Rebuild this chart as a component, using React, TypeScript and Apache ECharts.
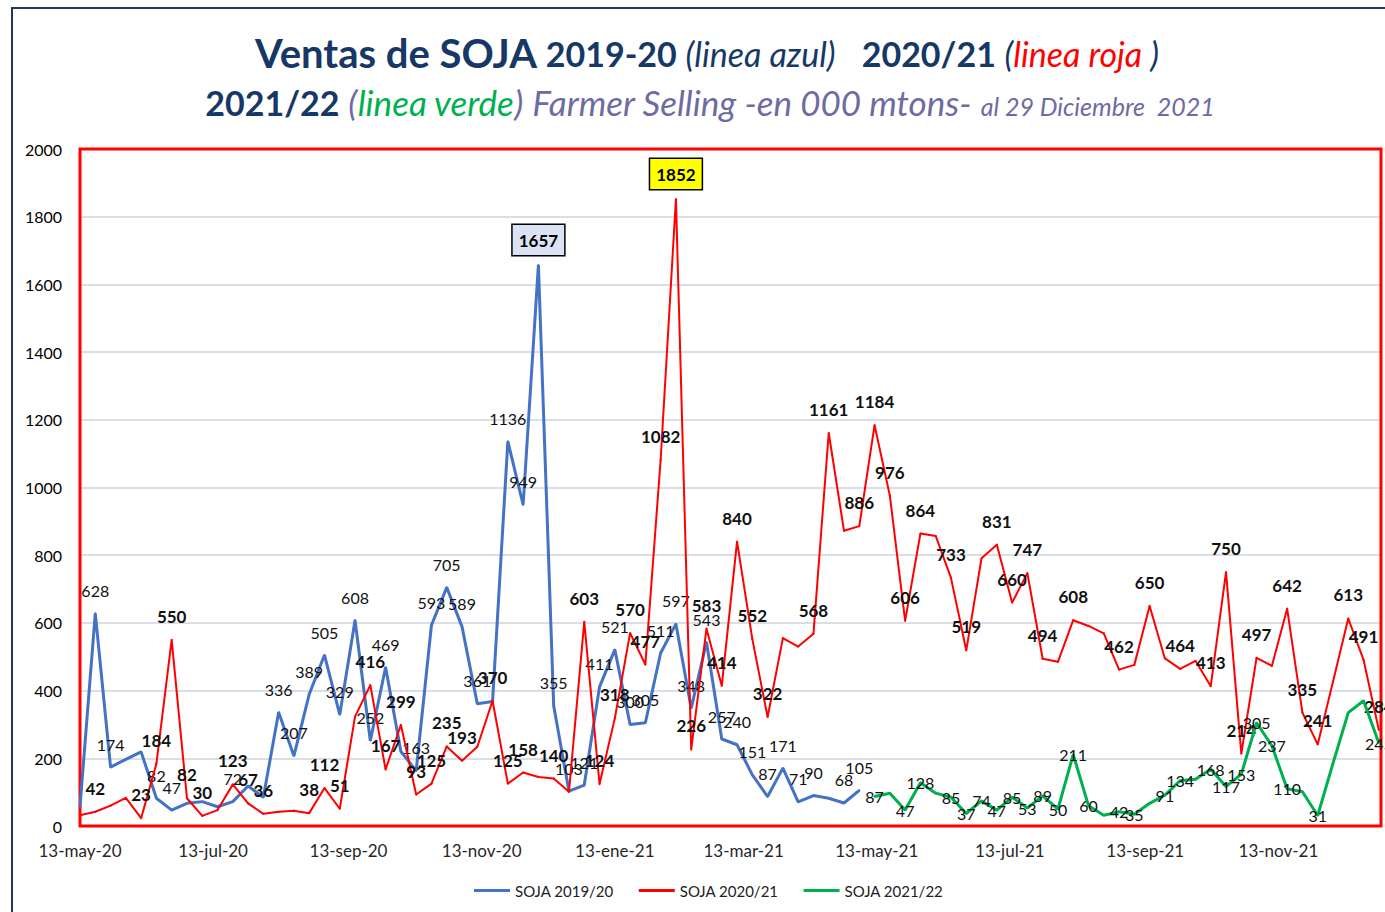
import React, { useEffect, useRef } from "react";
import * as echarts from "echarts";

// ---------- axis data ----------
const startDate = "2020-05-13";
const dayCount = 597; // daily categories, plot spans day 0 .. 596
const monthNames = ["ene", "feb", "mar", "abr", "may", "jun", "jul", "ago", "sep", "oct", "nov", "dic"];
const labelMonths = [0, 2, 4, 6, 8, 10];
const labelDay = 13;
const yMin = 0;
const yMax = 2000;
const yInterval = 200;

// ---------- series (weekly values) ----------
const seriesNames = ["SOJA 2019/20", "SOJA 2020/21", "SOJA 2021/22"];

const blueStartWeek = 0;
const blueValues = [
  57, 628, 174, 197, 219, 82, 47, 67, 72, 57,
  72, 118, 85, 336, 207, 389, 505, 329, 608, 252,
  469, 220, 163, 593, 705, 589, 361, 368, 1136, 949,
  1657, 355, 103, 121, 411, 521, 300, 305, 511, 597,
  348, 543, 257, 240, 151, 87, 171, 71, 90, 82,
  68, 105,
];
const blueNoLabel = [0, 3, 4, 7, 8, 9, 11, 12, 21, 27, 49];
const blueBoxWeek = 30;

const redStartWeek = 0;
const redValues = [
  32, 42, 60, 83, 23, 184, 550, 82, 30, 47,
  123, 67, 36, 42, 45, 38, 112, 51, 323, 416,
  167, 299, 93, 125, 235, 193, 234, 370, 125, 158,
  145, 140, 101, 603, 124, 318, 570, 477, 1082, 1852,
  226, 583, 414, 840, 552, 322, 555, 530, 568, 1161,
  872, 886, 1184, 976, 606, 864, 857, 733, 519, 791,
  831, 660, 747, 494, 485, 608, 591, 569, 462, 476,
  650, 495, 464, 488, 413, 750, 214, 497, 473, 642,
  335, 241, 426, 613, 491, 284,
];
const redNoLabel = [0, 2, 3, 9, 13, 14, 18, 26, 30, 32, 46, 47, 50, 56, 59, 64, 66, 67, 69, 71, 73, 78, 82];
const redBoxWeek = 39;

const greenStartWeek = 52;
const greenValues = [
  87, 97, 47, 128, 97, 85, 37, 74, 47, 85,
  53, 89, 50, 211, 60, 32, 42, 35, 67, 91,
  134, 138, 168, 117, 153, 305, 237, 110, 101, 31,
  185, 335, 370, 245,
];
const greenNoLabel = [53, 56, 67, 70, 73, 80, 82, 83, 84];

const colors = ["#4472C4", "#FF0000", "#00B050"];

const FONT = "Lato, 'Open Sans', sans-serif";
const NAVY = "#163866";
const PURPLE = "#6E6BA3";

function buildCategories(): string[] {
  const [y, m, d] = startDate.split("-").map(Number);
  const t0 = Date.UTC(y, m - 1, d);
  const out: string[] = [];
  for (let i = 0; i < dayCount; i++) {
    const dt = new Date(t0 + i * 86400000);
    out.push(dt.toISOString().slice(0, 10));
  }
  return out;
}

function buildData(
  values: number[],
  startWeek: number,
  noLabel: number[],
  boxWeek: number | null,
  boxColor: string
) {
  return values.map((v, k) => {
    const week = startWeek + k;
    const item: any = { value: [week * 7, v] };
    if (week === boxWeek) {
      item.label = {
        show: true,
        fontWeight: "bold",
        fontSize: 17,
        color: "#000",
        backgroundColor: boxColor,
        borderColor: "#000",
        borderWidth: 1.5,
        padding: [6, 6, 6, 6],
        lineHeight: 18,
        distance: 9,
      };
    } else if (noLabel.includes(week)) {
      item.label = { show: false };
    }
    return item;
  });
}

export default function App() {
  const ref = useRef<HTMLDivElement>(null);

  useEffect(() => {
    if (!ref.current) return;
    const chart = echarts.init(ref.current, undefined, { renderer: "svg" });
    const categories = buildCategories();

    const option: any = {
      animation: false,
      backgroundColor: "#ffffff",
      textStyle: { fontFamily: FONT },
      graphic: [
        {
          type: "rect",
          z: -10,
          silent: true,
          shape: { x: 12, y: 8, width: 1400, height: 940 },
          style: { fill: "none", stroke: "#1F3864", lineWidth: 2 },
        },
        {
          type: "rect",
          z: 1,
          silent: true,
          shape: { x: 80, y: 149, width: 1301, height: 677 },
          style: { fill: "none", stroke: "#FF0000", lineWidth: 3 },
        },
      ],
      title: [
        {
          left: 707,
          top: 31,
          textAlign: "center",
          padding: 0,
          text:
            "{a|Ventas de SOJA} {b|2019-20} {c|(linea azul)}   {b|2020/21} {c|(}{r|linea roja}{c| )}",
          textStyle: {
            fontFamily: FONT,
            fontSize: 34,
            fontWeight: "normal",
            color: NAVY,
            rich: {
              a: { fontFamily: FONT, fontSize: 40, fontWeight: "bold", color: NAVY, lineHeight: 44 },
              b: { fontFamily: FONT, fontSize: 34, fontWeight: "bold", color: NAVY, lineHeight: 44 },
              c: { fontFamily: FONT, fontSize: 34, fontWeight: "normal", fontStyle: "italic", color: NAVY, lineHeight: 44 },
              r: { fontFamily: FONT, fontSize: 34, fontWeight: "normal", fontStyle: "italic", color: "#FF0000", lineHeight: 44 },
            },
          },
        },
        {
          left: 710,
          top: 82,
          textAlign: "center",
          padding: 0,
          text:
            "{b|2021/22} {p|(}{g|linea verde}{p|)} {p|Farmer Selling -en 000 mtons-} {s|al 29 Diciembre  2021}",
          textStyle: {
            fontFamily: FONT,
            fontSize: 34,
            fontWeight: "normal",
            color: PURPLE,
            rich: {
              b: { fontFamily: FONT, fontSize: 34, fontWeight: "bold", color: NAVY, lineHeight: 40 },
              p: { fontFamily: FONT, fontSize: 35, fontWeight: "normal", fontStyle: "italic", color: PURPLE, lineHeight: 40 },
              g: { fontFamily: FONT, fontSize: 35, fontWeight: "normal", fontStyle: "italic", color: "#00B050", lineHeight: 40 },
              s: { fontFamily: FONT, fontSize: 25, fontWeight: "normal", fontStyle: "italic", color: PURPLE, lineHeight: 40, padding: [8, 0, 0, 0] },
            },
          },
        },
      ],
      legend: {
        data: seriesNames,
        left: 469,
        top: 878,
        icon: "rect",
        itemWidth: 36,
        itemHeight: 3,
        itemGap: 25,
        textStyle: { fontFamily: FONT, fontSize: 15, color: "#222" },
      },
      grid: {
        left: 80,
        top: 149,
        width: 1301,
        height: 677,
        show: false,
        containLabel: false,
      },
      xAxis: {
        type: "category",
        data: categories,
        boundaryGap: false,
        axisLine: { show: false },
        axisTick: { show: false },
        splitLine: { show: false },
        axisLabel: {
          fontFamily: FONT,
          fontSize: 17,
          color: "#262626",
          margin: 16,
          interval: (_idx: number, val: string) => {
            const d = new Date(val + "T00:00:00Z");
            return d.getUTCDate() === labelDay && labelMonths.includes(d.getUTCMonth());
          },
          formatter: (val: string) => {
            const d = new Date(val + "T00:00:00Z");
            const yy = String(d.getUTCFullYear()).slice(2);
            return `${labelDay}-${monthNames[d.getUTCMonth()]}-${yy}`;
          },
        },
      },
      yAxis: {
        type: "value",
        min: yMin,
        max: yMax,
        interval: yInterval,
        axisLine: { show: false },
        axisTick: { show: false },
        axisLabel: {
          fontFamily: FONT,
          fontSize: 16,
          color: "#000",
          margin: 18,
          formatter: (v: number) => String(v),
        },
        splitLine: { lineStyle: { color: "#D9DEE7", width: 2 } },
      },
      series: [
        {
          name: seriesNames[0],
          type: "line",
          color: colors[0],
          symbol: "circle",
          symbolSize: 2,
          showSymbol: true,
          showAllSymbol: true,
          lineStyle: { width: 3, color: colors[0] },
          label: {
            show: true,
            position: "top",
            distance: 14,
            fontFamily: FONT,
            fontSize: 16,
            color: "#111",
          },
          data: buildData(blueValues, blueStartWeek, blueNoLabel, blueBoxWeek, "#DAE3F3"),
          z: 2,
        },
        {
          name: seriesNames[1],
          type: "line",
          color: colors[1],
          symbol: "circle",
          symbolSize: 2,
          showSymbol: true,
          showAllSymbol: true,
          lineStyle: { width: 2, color: colors[1] },
          label: {
            show: true,
            position: "top",
            distance: 14,
            fontFamily: FONT,
            fontSize: 17,
            fontWeight: "bold",
            color: "#111",
          },
          data: buildData(redValues, redStartWeek, redNoLabel, redBoxWeek, "#FFFF00"),
          z: 3,
        },
        {
          name: seriesNames[2],
          type: "line",
          color: colors[2],
          symbol: "circle",
          symbolSize: 2,
          showSymbol: true,
          showAllSymbol: true,
          lineStyle: { width: 3, color: colors[2] },
          label: {
            show: true,
            position: "inside",
            fontFamily: FONT,
            fontSize: 16,
            color: "#111",
          },
          data: buildData(greenValues, greenStartWeek, greenNoLabel, null, ""),
          z: 4,
        },
      ],
    };

    chart.setOption(option);
    return () => chart.dispose();
  }, []);

  return (
    <div
      ref={ref}
      style={{ position: "absolute", left: 0, top: 0, width: 1385, height: 912 }}
    />
  );
}
